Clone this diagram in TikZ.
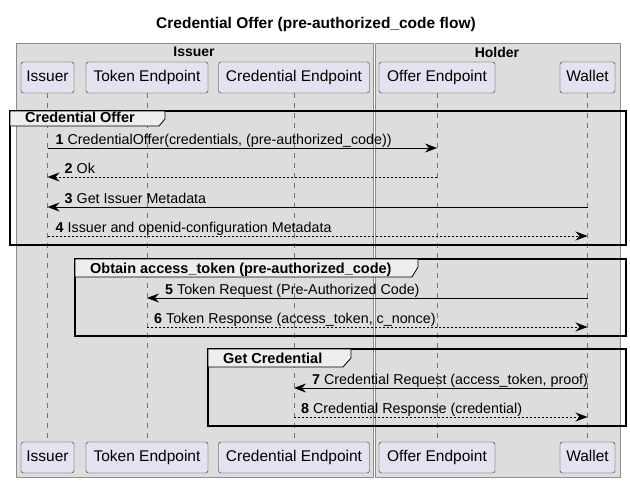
\documentclass[tikz,border=0pt]{standalone}
\usepackage{fontspec}
\setmainfont{Liberation Sans}
\usetikzlibrary{arrows.meta}

\definecolor{grpfill}{HTML}{DDDDDD}
\definecolor{partfill}{HTML}{E2E2F0}
\definecolor{tabfill}{HTML}{EEEEEE}
\tikzset{
  part/.style={draw=black!85, fill=partfill, rounded corners=2.5pt, minimum height=31pt,
    inner xsep=0pt, text height=11pt, text depth=3pt, font=\fontsize{15.5}{17}\selectfont},
  grp/.style={draw=black!45, fill=grpfill},
  grplabel/.style={font=\bfseries\fontsize{14}{16}\selectfont},
  lifeline/.style={draw=black!55, dash pattern=on 5pt off 5pt},
  sync/.style={-{Stealth[length=12pt,width=9pt,inset=4pt]}, line width=0.9pt},
  reply/.style={sync, dash pattern=on 2pt off 2pt},
  msglabel/.style={anchor=base west, inner sep=0pt, font=\fontsize{14.3}{16}\selectfont},
  fragment/.style={line width=1.8pt},
  tab/.style={draw=black, line width=0.8pt, fill=tabfill},
  tablabel/.style={anchor=base west, inner sep=0pt, font=\bfseries\fontsize{14.5}{16}\selectfont},
}

\begin{document}
\begin{tikzpicture}[x=1pt,y=-1pt]
\useasboundingbox[fill=white] (0,0) rectangle (630,482);

% title
\node[font=\bfseries\fontsize{15.5}{18}\selectfont] (title) at (316,24) {Credential Offer (pre-authorized\_code flow)};

% boxes
\draw[grp] (16,43) rectangle (373,477);
\draw[grp] (375,43) rectangle (620,477);
\node[grplabel] (issgrp) at (194,52) {Issuer};
\node[grplabel] (holgrp) at (497,52) {Holder};

% participants, top and bottom
\foreach \r/\y in {t/77.5,b/457.5}{
  \node[part, minimum width=53pt] (iss\r) at (47.5,\y) {Issuer};
  \node[part, minimum width=122pt] (tok\r) at (147,\y) {Token Endpoint};
  \node[part, minimum width=151pt] (cred\r) at (294,\y) {Credential Endpoint};
  \node[part, minimum width=116pt] (offer\r) at (437,\y) {Offer Endpoint};
  \node[part, minimum width=55pt] (wal\r) at (587.5,\y) {Wallet};
}
\foreach \p in {iss,tok,cred,offer,wal}
  \draw[lifeline] (\p t) -- (\p b);

% group: Credential Offer
\draw[fragment] (10,111) rectangle (626,245);
\draw[tab] (10,111) -- (165,111) -- (165,119) -- (159,126) -- (10,126) -- cycle;
\node[tablabel] (f1) at (25,122.5) {Credential Offer};
\coordinate (m1) at (0,148);
\coordinate (m2) at (0,177);
\coordinate (m3) at (0,207);
\coordinate (m4) at (0,236);
\draw[sync] (isst |- m1) -- (offert |- m1);
\node[msglabel] (l1) at ([xshift=8pt,yshift=4pt]isst |- m1) {\textbf{1} CredentialOffer(credentials, (pre-authorized\_code))};
\draw[reply] (offert |- m2) -- (isst |- m2);
\node[msglabel] (l2) at ([xshift=17pt,yshift=4pt]isst |- m2) {\textbf{2} Ok};
\draw[sync] (walt |- m3) -- (isst |- m3);
\node[msglabel] (l3) at ([xshift=17pt,yshift=4pt]isst |- m3) {\textbf{3} Get Issuer Metadata};
\draw[reply] (isst |- m4) -- (walt |- m4);
\node[msglabel] (l4) at ([xshift=8pt,yshift=4pt]isst |- m4) {\textbf{4} Issuer and openid-configuration Metadata};

% group: Obtain access_token
\draw[fragment] (75,259) rectangle (626,336);
\draw[tab] (75,259) -- (418,259) -- (418,267) -- (412,277) -- (75,277) -- cycle;
\node[tablabel] (f2) at (90,273.5) {Obtain access\_token (pre-authorized\_code)};
\coordinate (m5) at (0,298);
\coordinate (m6) at (0,327);
\draw[sync] (walt |- m5) -- (tokt |- m5);
\node[msglabel] (l5) at ([xshift=18pt,yshift=4pt]tokt |- m5) {\textbf{5} Token Request (Pre-Authorized Code)};
\draw[reply] (tokt |- m6) -- (walt |- m6);
\node[msglabel] (l6) at ([xshift=7pt,yshift=4pt]tokt |- m6) {\textbf{6} Token Response (access\_token, c\_nonce)};

% group: Get Credential
\draw[fragment] (208,349) rectangle (626,426);
\draw[tab] (208,349) -- (351,349) -- (351,358) -- (343,367) -- (208,367) -- cycle;
\node[tablabel] (f3) at (223,363.5) {Get Credential};
\coordinate (m7) at (0,388);
\coordinate (m8) at (0,417);
\draw[sync] (walt |- m7) -- (credt |- m7);
\node[msglabel] (l7) at ([xshift=18pt,yshift=4pt]credt |- m7) {\textbf{7} Credential Request (access\_token, proof)};
\draw[reply] (credt |- m8) -- (walt |- m8);
\node[msglabel] (l8) at ([xshift=7pt,yshift=4pt]credt |- m8) {\textbf{8} Credential Response (credential)};
\end{tikzpicture}
\end{document}
